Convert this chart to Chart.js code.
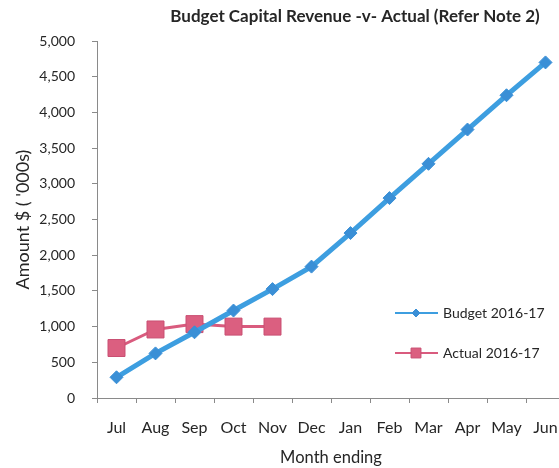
<!DOCTYPE html>
<html lang="en">
<head>
  <meta charset="UTF-8">
  <title>Budget Capital Revenue -v- Actual</title>
  <script src="https://cdn.jsdelivr.net/npm/chart.js@4.4.0/dist/chart.umd.min.js"></script>
  <style>
    html, body { margin: 0; padding: 0; background: #fff; overflow: hidden; }
    #chartContainer { width: 578px; height: 468px; }
  </style>
</head>
<body>
  <div id="chartContainer">
    <canvas id="chart"></canvas>
  </div>
  <script>
    // chart values
    var months = ['Jul', 'Aug', 'Sep', 'Oct', 'Nov', 'Dec', 'Jan', 'Feb', 'Mar', 'Apr', 'May', 'Jun'];
    var budget = [290, 625, 920, 1225, 1525, 1840, 2310, 2800, 3280, 3760, 4240, 4700];
    var actual = [700, 960, 1035, 1000, 1000];
    var yTicks = [0, 500, 1000, 1500, 2000, 2500, 3000, 3500, 4000, 4500, 5000];

    var font = 'Lato, "Open Sans", sans-serif';
    var textColor = '#262626';
    var axisColor = '#8a8a8a';

    // title and legend sit over the plot like the Excel original
    var overlay = {
      id: 'overlay',
      afterDraw: function(chart) {
        var ctx = chart.ctx;
        ctx.save();
        ctx.fillStyle = textColor;
        ctx.font = 'bold 17px ' + font;
        ctx.textAlign = 'center';
        ctx.textBaseline = 'middle';
        ctx.fillText('Budget Capital Revenue -v- Actual (Refer Note 2)', 355, 17);

        var rows = [313, 353];
        chart.data.datasets.forEach(function(ds, i) {
          var y = rows[i];
          ctx.strokeStyle = ds.borderColor;
          ctx.lineWidth = 2;
          ctx.beginPath();
          ctx.moveTo(395, y);
          ctx.lineTo(438, y);
          ctx.stroke();
          ctx.fillStyle = ds.pointBackgroundColor;
          ctx.strokeStyle = ds.pointBorderColor;
          ctx.lineWidth = 1;
          Chart.helpers.drawPoint(ctx, { pointStyle: ds.pointStyle, radius: i === 0 ? 4 : 7, borderWidth: 1 }, 416, y);
          ctx.fillStyle = textColor;
          ctx.font = '14px ' + font;
          ctx.textAlign = 'left';
          ctx.fillText(ds.label, 443, y);
        });
        ctx.restore();
      }
    };

    var ctx = document.getElementById('chart').getContext('2d');
    var myChart = new Chart(ctx, {
      type: 'line',
      data: {
        labels: months,
        datasets: [{
          label: 'Budget 2016-17',
          data: budget,
          borderColor: '#3d9ee0',
          backgroundColor: '#3d9ee0',
          borderWidth: 5,
          pointStyle: 'rectRot',
          pointRadius: 6.5,
          pointBackgroundColor: '#3a8fd6',
          pointBorderColor: '#3a8fd6',
          pointBorderWidth: 1,
          tension: 0
        }, {
          label: 'Actual 2016-17',
          data: actual,
          borderColor: '#d95b7e',
          backgroundColor: '#d95b7e',
          borderWidth: 3,
          pointStyle: 'rect',
          pointRadius: 12,
          pointBackgroundColor: '#db5f80',
          pointBorderColor: '#c94f72',
          pointBorderWidth: 1,
          tension: 0
        }]
      },
      options: {
        responsive: true,
        maintainAspectRatio: false,
        animation: false,
        layout: { padding: { top: 41, left: 12, right: 0, bottom: 0 } },
        plugins: {
          legend: { display: false },
          tooltip: { enabled: false }
        },
        scales: {
          x: {
            offset: true,
            afterFit: function(axis) { axis.height = 70; },
            grid: { display: true, offset: true, drawOnChartArea: false, color: axisColor, tickLength: 5 },
            border: { color: axisColor, width: 1 },
            ticks: { color: textColor, font: { family: font, size: 16 }, padding: 15, maxRotation: 0 },
            title: { display: true, text: 'Month ending', color: textColor, font: { family: font, size: 16.5 }, padding: { top: 0, bottom: 0 } }
          },
          y: {
            min: 0,
            max: 5000,
            afterFit: function(axis) { axis.width = 85; },
            afterBuildTicks: function(axis) {
              axis.ticks = yTicks.map(function(v) { return { value: v }; });
            },
            grid: { display: true, drawOnChartArea: false, color: axisColor, tickLength: 5 },
            border: { color: axisColor, width: 1 },
            ticks: {
              color: textColor,
              font: { family: font, size: 14 },
              padding: 17,
              callback: function(v) { return v.toLocaleString('en-US'); }
            },
            title: { display: true, text: "Amount $ ( '000s)", color: textColor, font: { family: font, size: 18 }, padding: { top: 0, bottom: 6 } }
          }
        }
      },
      plugins: [overlay]
    });
  </script>
</body>
</html>
